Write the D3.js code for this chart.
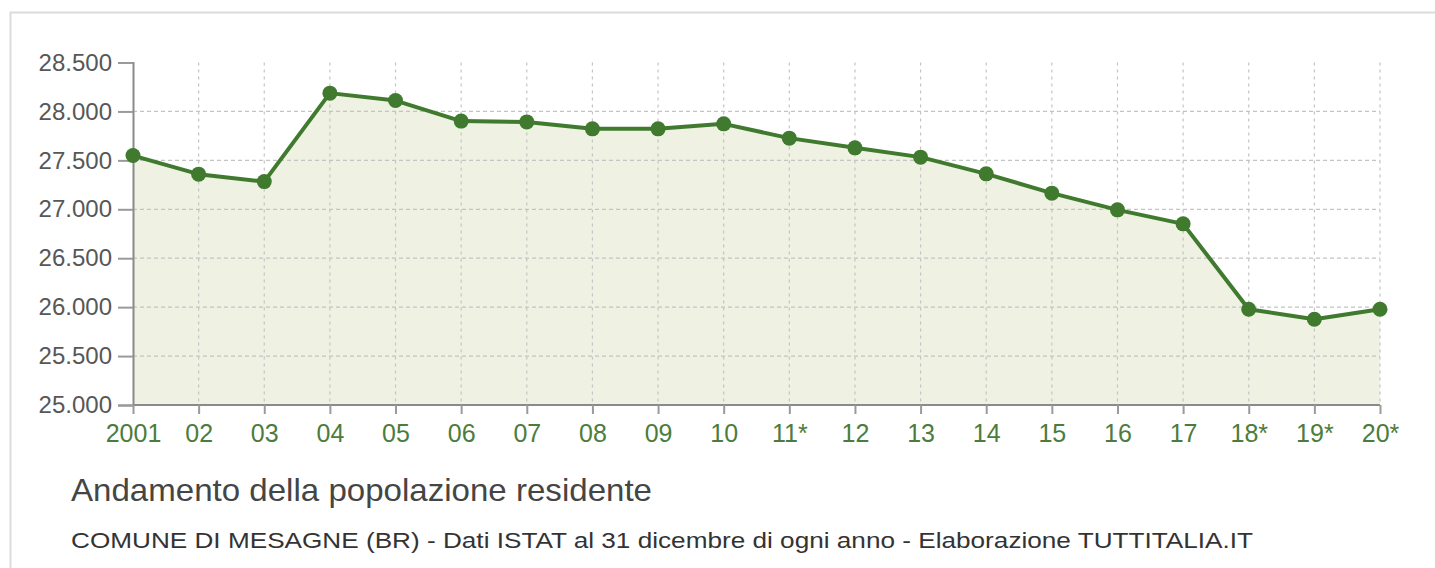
<!DOCTYPE html>
<html>
<head>
<meta charset="utf-8">
<script src="https://cdn.jsdelivr.net/npm/d3@7"></script>
<style>
  body { margin: 0; background: #fff; }
  svg { display: block; font-family: "Liberation Sans", Arial, sans-serif; }
</style>
</head>
<body>
<div id="chart"></div>
<script>
const years = ['2001', '02', '03', '04', '05', '06', '07', '08', '09', '10',
               '11*', '12', '13', '14', '15', '16', '17', '18*', '19*', '20*']
const population = [27549, 27359, 27283, 28187, 28111, 27901, 27893, 27822, 27822, 27873,
                    27727, 27628, 27533, 27362, 27165, 26994, 26851, 25979, 25876, 25979]
const yTicks = [25000, 25500, 26000, 26500, 27000, 27500, 28000, 28500]

const title = 'Andamento della popolazione residente'
const subtitle = 'COMUNE DI MESAGNE (BR) - Dati ISTAT al 31 dicembre di ogni anno - Elaborazione TUTTITALIA.IT'

const width = 1435
const height = 568

const itFormat = d3.formatLocale({ decimal: ',', thousands: '.', grouping: [3], currency: ['€', ''] }).format(',')

const svg = d3.select('#chart')
  .append('svg')
  .attr('width', width)
  .attr('height', height)

// outer frame (open on the right and bottom, like the cropped original)
svg.append('path')
  .attr('d', `M10.5,${height + 5}V12.5H${width + 5}`)
  .attr('fill', 'none')
  .attr('stroke', '#dcdcdc')
  .attr('stroke-width', 2)

const x = d3.scalePoint()
  .domain(years)
  .range([133, 1380])

const y = d3.scaleLinear()
  .domain([25000, 28500])
  .range([405, 62.5])

// fill under the line
const area = d3.area()
  .x((d, i) => x(years[i]))
  .y0(y(25000))
  .y1(d => y(d))

svg.append('path')
  .datum(population)
  .attr('d', area)
  .attr('fill', '#eff1e2')

// grid
svg.append('g')
  .selectAll('line')
  .data(yTicks.slice(1, -1))
  .enter()
  .append('line')
  .attr('x1', x(years[0]))
  .attr('x2', x(years[years.length - 1]))
  .attr('y1', d => y(d))
  .attr('y2', d => y(d))
  .attr('stroke', '#c4c4c4')
  .attr('stroke-width', 1.2)
  .attr('stroke-dasharray', '4,3')

svg.append('g')
  .selectAll('line')
  .data(years.slice(1))
  .enter()
  .append('line')
  .attr('x1', d => x(d))
  .attr('x2', d => x(d))
  .attr('y1', y(28500))
  .attr('y2', y(25000))
  .attr('stroke', '#c4c4c4')
  .attr('stroke-width', 1.2)
  .attr('stroke-dasharray', '3,4')

// axes
const yAxis = d3.axisLeft(y)
  .tickValues(yTicks)
  .tickFormat(itFormat)
  .tickSize(15)
  .tickPadding(6)

const gy = svg.append('g')
  .attr('transform', `translate(${x(years[0])},0)`)
  .call(yAxis)

gy.select('.domain').attr('stroke', '#8a8a8a').attr('stroke-width', 2)
gy.selectAll('.tick line').attr('stroke', '#9a9a9a').attr('stroke-width', 2)
gy.selectAll('.tick text')
  .attr('fill', '#575757')
  .style('font-size', '24px')
  .style('font-family', '"Liberation Sans", Arial, sans-serif')

const xAxis = d3.axisBottom(x)
  .tickSize(9)
  .tickPadding(10)

const gx = svg.append('g')
  .attr('transform', `translate(0,${y(25000)})`)
  .call(xAxis)

gx.select('.domain').attr('stroke', '#8a8a8a').attr('stroke-width', 2).attr('d', `M${x(years[0])},0H${x(years[years.length - 1])}`)
gx.selectAll('.tick line').attr('stroke', '#9a9a9a').attr('stroke-width', 2)
gx.selectAll('.tick text')
  .attr('fill', '#4c7c3c')
  .style('font-size', '25px')
  .style('font-family', '"Liberation Sans", Arial, sans-serif')

// line and dots
const line = d3.line()
  .x((d, i) => x(years[i]))
  .y(d => y(d))

svg.append('path')
  .datum(population)
  .attr('d', line)
  .attr('fill', 'none')
  .attr('stroke', '#3f7a2e')
  .attr('stroke-width', 4)
  .attr('stroke-linejoin', 'round')

svg.append('g')
  .selectAll('circle')
  .data(population)
  .enter()
  .append('circle')
  .attr('cx', (d, i) => x(years[i]))
  .attr('cy', d => y(d))
  .attr('r', 7.5)
  .attr('fill', '#3f7a2e')

// titles (original glyphs are wider, stretch them to its width)
svg.append('text')
  .attr('x', 71)
  .attr('y', 501)
  .attr('fill', '#454545')
  .attr('textLength', 581)
  .attr('lengthAdjust', 'spacingAndGlyphs')
  .style('font-size', '32px')
  .text(title)

svg.append('text')
  .attr('x', 71)
  .attr('y', 548)
  .attr('fill', '#333')
  .attr('textLength', 1182)
  .attr('lengthAdjust', 'spacingAndGlyphs')
  .style('font-size', '22px')
  .text(subtitle)
</script>
</body>
</html>
